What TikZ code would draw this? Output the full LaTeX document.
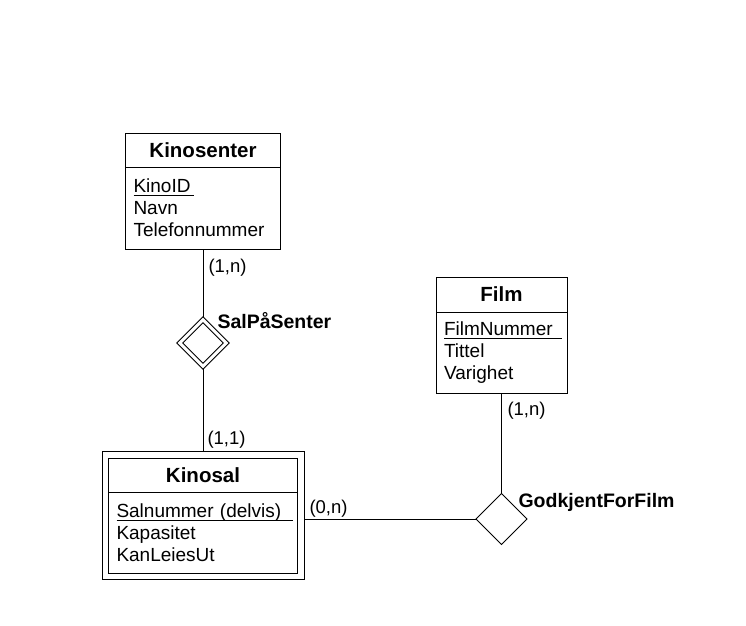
\documentclass[tikz,border=0pt]{standalone}
\usepackage{fontspec}
\setmainfont{Liberation Sans}
\usetikzlibrary{backgrounds}
\usetikzlibrary{positioning,shapes.geometric}
\usetikzlibrary{fit}
\tikzstyle{every node}=[line width=1pt]
\newcommand{\pkey}[2][3pt]{\setbox0\hbox{#2\hspace{#1}}\rlap{\rule[-3.5pt]{\wd0}{1pt}}#2}

\begin{document}
\begin{tikzpicture}[x=1pt, y=-1pt, line width=1pt]
      %%%%%%%%%%%%%%%%%%%%%%%%%%%%%%%%%%%%%%%%%%%%%%%%%%
      %% ER: Kinosenter, Kinosal, Film
      %%%%%%%%%%%%%%%%%%%%%%%%%%%%%%%%%%%%%%%%%%%%%%%%%%
      \tikzstyle{hnode} = [draw, rectangle, outer sep=0pt, inner sep=0pt, minimum height=34pt, font=\fontsize{20.5}{22}\selectfont\bfseries]
      \tikzstyle{anode} = [draw, rectangle, outer sep=0pt, inner xsep=8pt, inner ysep=0pt, align=left, font=\fontsize{19}{22}\selectfont]
      \tikzstyle{rnode} = [draw, diamond, aspect=1, inner sep=0pt, outer sep=0pt]
      \tikzstyle{lnode} = [anchor=west, inner sep=0pt, font=\fontsize{18.5}{22}\selectfont]
      \tikzstyle{bnode} = [anchor=west, inner sep=0pt, font=\fontsize{19.5}{22}\selectfont\bfseries]
      \useasboundingbox (0,0) rectangle (746,625);
      \node[hnode, minimum width=155pt] (ks) at (203,150) {Kinosenter};
      \node[anode, below=0pt of ks, text width=139pt, minimum height=82pt] (ksa) {\pkey{KinoID}\\ Navn\\ Telefonnummer};
      \node[hnode, minimum width=189pt] (kl) at (203,475) {Kinosal};
      \node[anode, below=0pt of kl, text width=173pt, minimum height=81pt] (kla) {\pkey[12pt]{Salnummer (delvis)}\\ Kapasitet\\ KanLeiesUt};
      \node[draw, fit=(kl)(kla), inner sep=6.5pt, outer sep=0pt] (klbox) {};
      \node[hnode, minimum width=131pt, minimum height=35pt] (fm) at (501.5,294.5) {Film};
      \node[anode, below=0pt of fm, text width=115pt, minimum height=81pt] (fma) {\pkey[9pt]{FilmNummer}\\ Tittel\\ Varighet};
      \node[rnode, double, double distance=3pt, minimum size=46.5pt] (sps) at (203,343) {};
      \node[rnode, minimum size=51pt] (gff) at (501.5,519) {};
      \node[lnode] (c1) at (208,268) {(1,n)};
      \node[bnode] (spsl) at (217,321) {SalPåSenter};
      \node[lnode] (c2) at (207,440) {(1,1)};
      \node[lnode] (c3) at (309,509) {(0,n)};
      \node[lnode] (c4) at (507,411) {(1,n)};
      \node[bnode] (gffl) at (518,502) {GodkjentForFilm};
      \begin{scope}[on background layer]
        \draw (ksa) -- (sps);
        \draw (sps) -- (klbox);
        \draw (fma) -- (gff);
        \draw (klbox.east |- gff) -- (gff);
      \end{scope}
\end{tikzpicture}
\end{document}
